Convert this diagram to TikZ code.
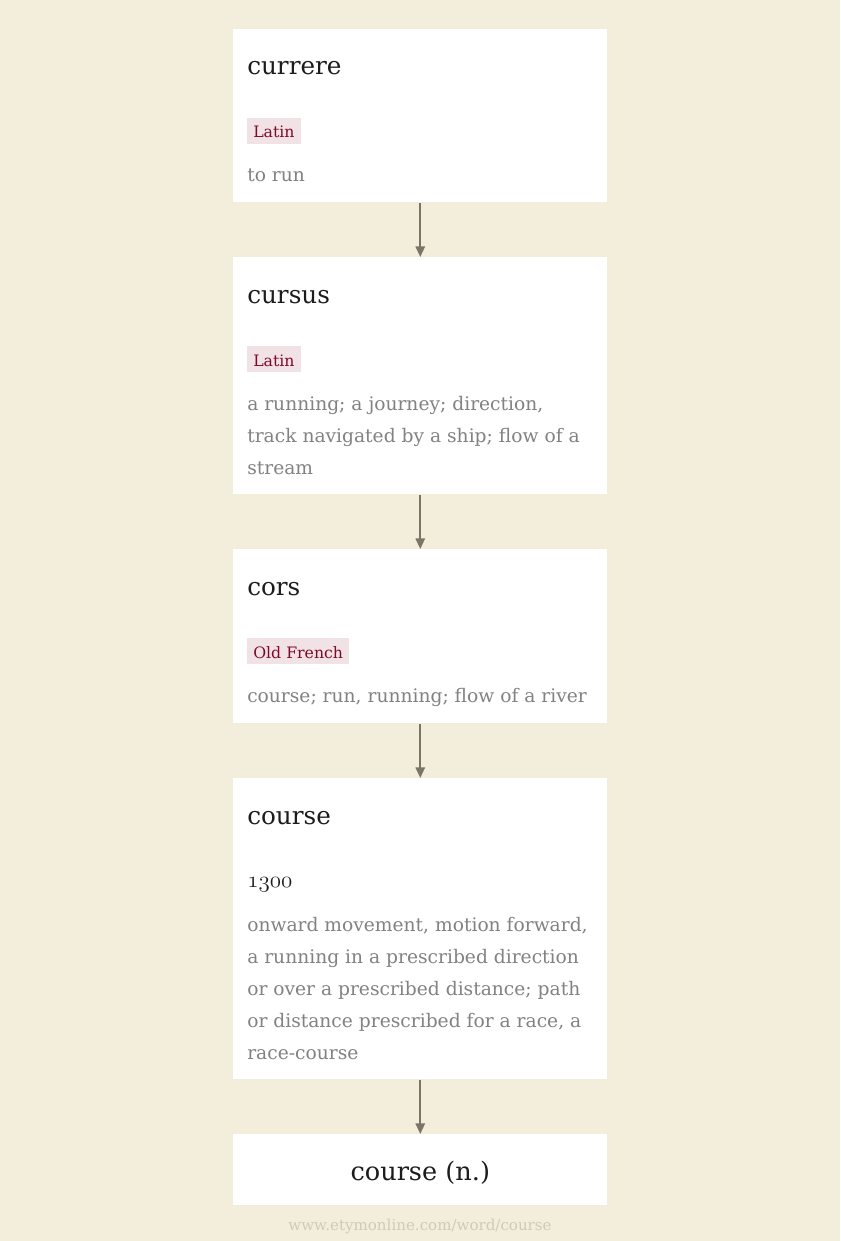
\documentclass[tikz,border=0pt]{standalone}
\usepackage{fontspec}
\setmainfont{DejaVu Serif}
\usetikzlibrary{positioning, arrows.meta}
\definecolor{paper}{RGB}{243,237,219}
\definecolor{ink}{RGB}{28,28,28}
\definecolor{tagbg}{RGB}{241,226,230}
\definecolor{tagink}{RGB}{125,10,40}
\definecolor{glossgray}{RGB}{130,130,130}
\definecolor{linkgray}{RGB}{122,117,102}
\definecolor{footgray}{RGB}{208,202,188}
\newcommand{\glosslines}[1]{\parbox[t]{270pt}{\raggedright #1}}

\begin{document}
\begin{tikzpicture}[x=0.75pt, y=-0.75pt,
  card/.style={fill=white, minimum width=280.5pt, anchor=north west, inner sep=0pt},
  word/.style={anchor=base west, inner sep=0pt, text=ink, font=\fontsize{18.5}{22}\selectfont},
  lang/.style={anchor=base west, fill=tagbg, text=tagink, inner xsep=4.5pt, inner ysep=0pt,
    text height=15pt, text depth=4.5pt, font=\fontsize{11.8}{14}\selectfont},
  gloss/.style={anchor=base west, inner sep=0pt, text=glossgray,
    font=\fontsize{14}{24}\selectfont},
  link/.style={-{Triangle[width=7pt,length=8pt]}, line width=1.5pt, draw=linkgray}]
  \fill[paper] (0,0) rectangle (840,1241);

  % the cards
  \node[card, minimum height=129.75pt] (currere) at (233,29) {};
  \node[card, minimum height=177.75pt] (cursus) at (233,257) {};
  \node[card, minimum height=130.5pt] (cors) at (233,549) {};
  \node[card, minimum height=225.75pt] (course) at (233,778) {};
  \node[card, minimum height=53.25pt] (coursen) at (233,1134) {};

  % currere
  \node[word] (w1) at ([shift={(14,46)}]currere.north west) {currere};
  \node[lang] (l1) at ([shift={(14,109)}]currere.north west) {Latin};
  \node[gloss] (g1) at ([shift={(14,153)}]currere.north west) {to run};

  % cursus
  \node[word] (w2) at ([shift={(14,46)}]cursus.north west) {cursus};
  \node[lang] (l2) at ([shift={(14,109)}]cursus.north west) {Latin};
  \node[gloss] (g2) at ([shift={(14,153)}]cursus.north west)
    {\glosslines{a running; a journey; direction,\\track navigated by a ship; flow of a\\stream}};

  % cors
  \node[word] (w3) at ([shift={(14,46)}]cors.north west) {cors};
  \node[lang] (l3) at ([shift={(14,109)}]cors.north west) {Old French};
  \node[gloss] (g3) at ([shift={(14,153)}]cors.north west)
    {course; run, running; flow of a river};

  % course
  \node[word] (w4) at ([shift={(14,46)}]course.north west) {course};
  \node[anchor=base west, inner sep=0pt, text=ink, font=\fontsize{17}{20}\selectfont] (y4)
    at ([shift={(14,109)}]course.north west) {$\mathnormal{1300}$};
  \node[gloss] (g4) at ([shift={(14,153)}]course.north west)
    {\glosslines{onward movement, motion forward,\\a running in a prescribed direction\\or over a prescribed distance; path\\or distance prescribed for a race, a\\race-course}};

  % course (n.)
  \node[anchor=base, inner sep=0pt, text=ink, font=\fontsize{19.2}{22}\selectfont] (w5)
    at ([yshift=-46*0.75pt]coursen.north) {course (n.)};

  \node[anchor=base, inner sep=0pt, text=footgray, font=\fontsize{11.3}{13}\selectfont] (site)
    at (420,1230) {www.etymonline.com/word/course};

  % links
  \draw[link] (currere.south) -- (cursus.north);
  \draw[link] (cursus.south) -- (cors.north);
  \draw[link] (cors.south) -- (course.north);
  \draw[link] (course.south) -- (coursen.north);
\end{tikzpicture}
\end{document}
